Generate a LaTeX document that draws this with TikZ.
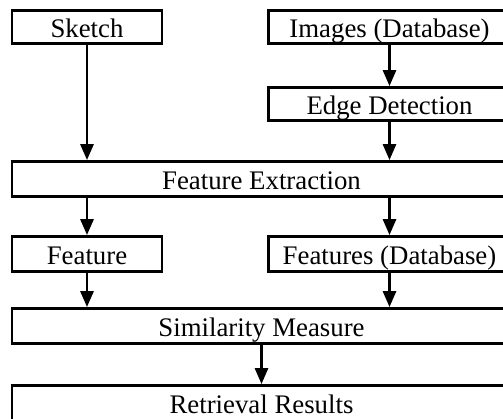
\documentclass[tikz,border=0pt]{standalone}
\usepackage{fontspec}
\setmainfont{Liberation Serif}
\usetikzlibrary{arrows.meta}
\tikzset{
  box/.style={draw, line width=2.8pt, rectangle, inner sep=0pt,
    minimum height=33pt, text height=20pt, text depth=0pt,
    font=\fontsize{26.8}{30}\selectfont},
  arr/.style={line width=2.8pt, -{Triangle[length=16pt,width=13pt]}}
}
\begin{document}
\begin{tikzpicture}[x=1pt,y=-1pt]
  \useasboundingbox (0,0) rectangle (503,418);
  \clip (0,0) rectangle (503,418);
  % input row
  \node[box, minimum width=150pt] (sketch) at (87,27) {Sketch};
  \node[box, minimum width=242pt] (images) at (389.5,27) {Images (Database)};
  \node[box, minimum width=242pt] (edge) at (389.5,104) {Edge Detection};
  % shared stages
  \node[box, minimum width=499pt, minimum height=35pt] (fe) at (261.5,179) {Feature Extraction};
  \node[box, minimum width=150pt, minimum height=35pt] (feat) at (87,254) {Feature};
  \node[box, minimum width=242pt, minimum height=35pt] (featdb) at (389.5,254) {Features (Database)};
  \node[box, minimum width=499pt, minimum height=35pt] (sim) at (261.5,326) {Similarity Measure};
  \node[box, minimum width=499pt, minimum height=35pt] (ret) at (261.5,403) {Retrieval Results};
  % connectors
  \draw[arr] (sketch.south) -- (sketch.south |- fe.north);
  \draw[arr] (images.south) -- (edge.north);
  \draw[arr] (edge.south) -- (edge.south |- fe.north);
  \draw[arr] (feat.north |- fe.south) -- (feat.north);
  \draw[arr] (featdb.north |- fe.south) -- (featdb.north);
  \draw[arr] (feat.south) -- (feat.south |- sim.north);
  \draw[arr] (featdb.south) -- (featdb.south |- sim.north);
  \draw[arr] (sim.south) -- (ret.north);
\end{tikzpicture}
\end{document}
